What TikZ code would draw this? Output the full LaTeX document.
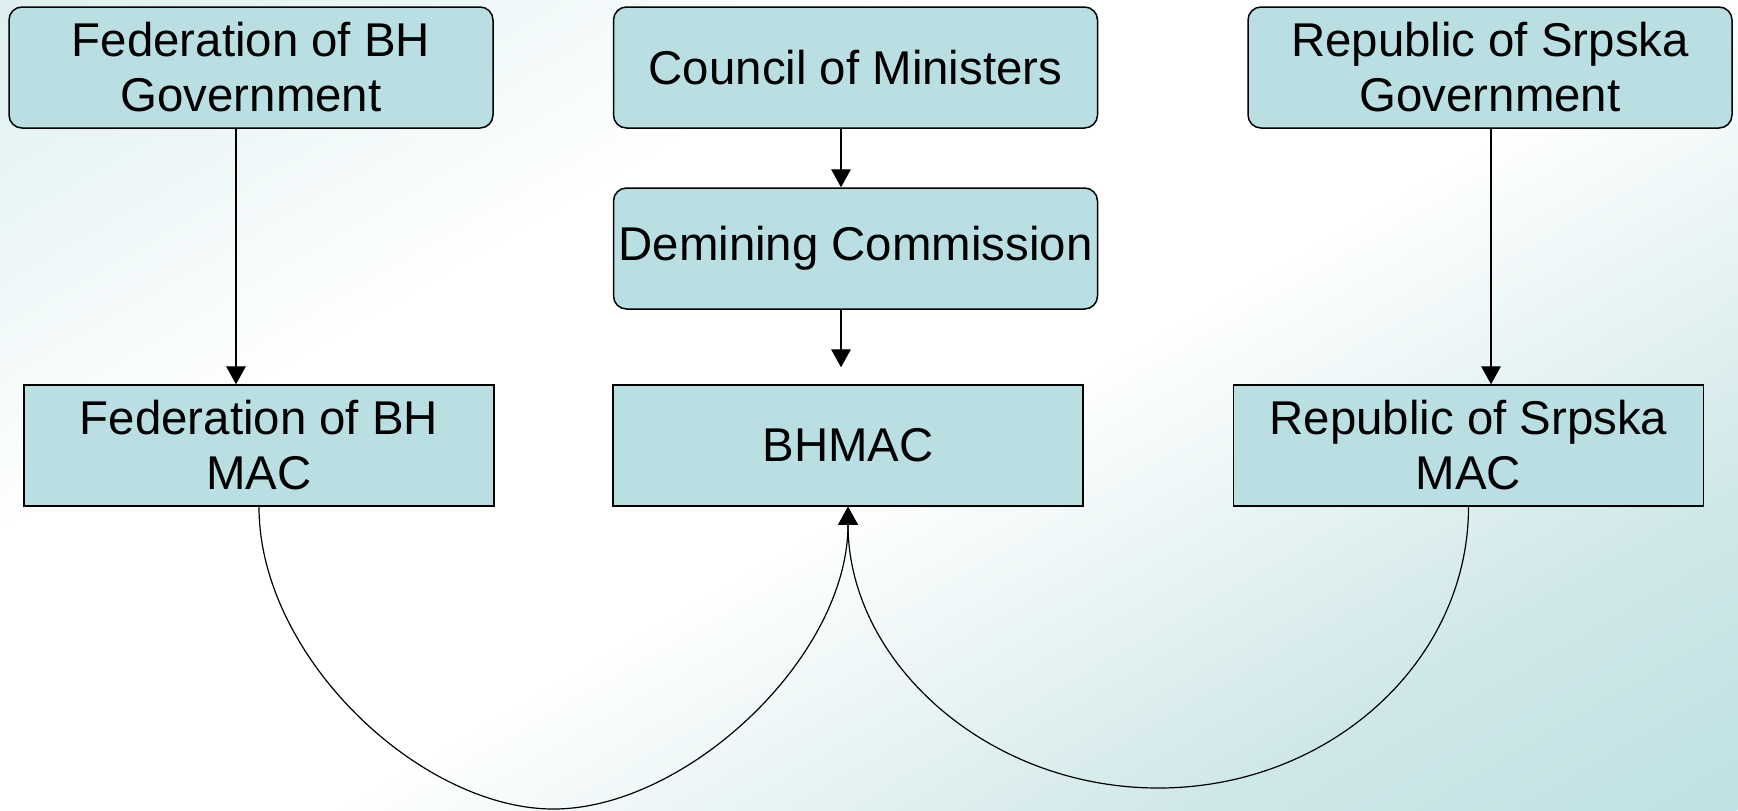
\documentclass[tikz,border=0pt]{standalone}
\usepackage{fontspec}
\setmainfont{Liberation Sans}
\usetikzlibrary{arrows.meta}
\definecolor{boxfill}{RGB}{186,223,227}
\definecolor{bgA}{RGB}{191,225,227}
\definecolor{bgC}{RGB}{207,231,232}
\definecolor{bgB}{RGB}{221,239,240}
\pgfdeclareverticalshading{bgshade}{100bp}{color(0bp)=(bgA); color(25bp)=(bgA); color(33.5bp)=(bgC); color(47.5bp)=(white); color(60bp)=(white); color(75bp)=(bgB); color(100bp)=(bgB)}
\begin{document}
\begin{tikzpicture}[x=0.5pt,y=-0.5pt,
  txt/.style={align=center, font=\fontsize{23.7}{27.5}\selectfont, text=black},
  rbox/.style={txt, draw=black, line width=0.75pt, fill=boxfill, rounded corners=6.5pt,
    minimum width=242pt, minimum height=60.5pt, inner sep=0pt},
  sbox/.style={txt, draw=black, line width=0.75pt, fill=boxfill,
    minimum width=235pt, minimum height=60.5pt, inner sep=0pt},
  arr/.style={-{Triangle[length=9pt,width=9.8pt]}, line width=0.6pt, draw=black}]
\useasboundingbox (0,0) rectangle (1738,810);
\begin{scope}
  \clip (0,0) rectangle (1738,810);
  \begin{scope}[transform canvas={rotate around={30:(869,405)}}]
    \shade[shading=bgshade] (-131,-380) rectangle (1869,1190);
  \end{scope}
\end{scope}

\node[rbox] (fg) at (251,67.5) {Federation of BH\\Government};
\node[rbox] (cm) at (855.5,67.5) {Council of Ministers};
\node[rbox] (rg) at (1490,67.5) {Republic of Srpska\\Government};
\node[rbox] (dc) at (855.5,248.5) {Demining Commission};
\node[sbox] (fm) at (259,445.5) {Federation of BH\\MAC};
\node[sbox] (bh) at (848,445.5) {BHMAC};
\node[sbox] (rm) at (1468.5,445.5) {Republic of Srpska\\MAC};

\coordinate (xa) at (236,0);
\coordinate (xb) at (841,0);
\coordinate (xc) at (1491,0);
\coordinate (lbot) at (553.5,809);
\coordinate (rbot) at (1158.25,788);

\draw[arr] (fg.south -| xa) -- (fm.north -| xa);
\draw[arr] (cm.south -| xb) -- (dc.north -| xb);
\draw[arr, shorten >=8.5pt] (dc.south -| xb) -- (bh.north -| xb);
\draw[arr] (rg.south -| xc) -- (rm.north -| xc);

\draw[arr] (fm.south) .. controls (259,657.5) and (421,809) .. (lbot)
  .. controls (686,809) and (848,657.5) .. (bh.south);
\draw[arr] (rm.south) .. controls (1468.5,661.7) and (1329.5,788) .. (rbot)
  .. controls (987,788) and (848,661.7) .. (bh.south);
\end{tikzpicture}
\end{document}
